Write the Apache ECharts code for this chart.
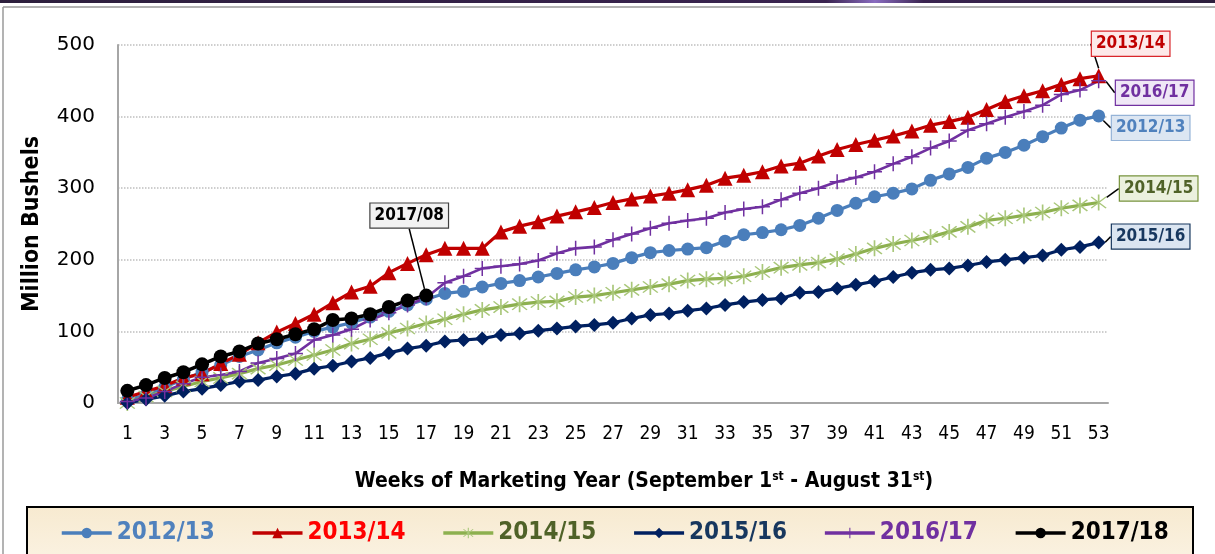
<!DOCTYPE html>
<html>
<head>
<meta charset="utf-8">
<script src="https://cdn.jsdelivr.net/npm/echarts@6/dist/echarts.min.js"></script>
<style>
  html, body { margin: 0; padding: 0; background: #ffffff; }
  #chart { width: 1215px; height: 554px; }
</style>
</head>
<body>
<div id="chart"></div>
<script>
// Week numbers of the marketing year
const weeks = Array.from({ length: 53 }, (_, i) => String(i + 1));

// Cumulative export inspections, million bushels, by marketing year
const y2012_13 = [4,11,22,33,43,53,65,74,84,92,100,106,112,120,128,137,145,
  153,156,162,167,171,176,181,186,190,195,
  203,210,213,215,217,226,235,238,242,248,258,269,279,
  288,293,299,311,320,329,342,350,360,372,384,395,401];
const y2013_14 = [8,16,24,35,41,55,68,84,99,111,124,140,155,163,182,195,207,
  216,216,216,239,247,253,261,267,273,280,
  285,289,293,298,304,314,318,323,331,335,345,354,361,
  367,373,380,388,393,399,410,421,429,436,445,453,457];
const y2014_15 = [0,9,16,23,30,35,41,48,53,60,67,74,83,89,
  98,104,111,117,124,130,134,138,141,142,148,150,154,
  158,162,166,171,173,174,177,183,189,193,196,201,208,
  216,222,227,232,239,246,255,258,262,266,272,276,280];
const y2015_16 = [0,5,10,16,20,25,30,32,37,41,48,52,58,63,
  70,76,80,86,88,90,95,97,101,104,107,109,112,
  118,123,125,129,132,137,141,144,146,154,155,160,165,
  170,176,182,186,188,192,197,200,203,206,214,218,224];
const y2016_17 = [2,7,16,27,36,39,44,56,62,69,88,95,103,116,
  126,137,147,168,177,188,191,194,199,209,216,218,228,
  236,244,251,255,258,266,271,274,284,293,300,309,315,
  323,334,344,356,366,381,390,399,407,416,431,437,450];
const y2017_18 = [17,25,35,43,54,65,72,83,89,96,103,116,118,124,134,143,150];

const yTicks = [0, 100, 200, 300, 400, 500];

// Marker shapes
const ASTERISK = 'path://M9.2 0L10.8 0L10.8 20L9.2 20Z M2.4 3.5L3.5 2.4L17.6 16.5L16.5 17.6Z M16.5 2.4L17.6 3.5L3.5 17.6L2.4 16.5Z';
const PLUS = 'path://M9 0L11 0L11 20L9 20Z M0 9L20 9L20 11L0 11Z';

const FONT = '"DejaVu Sans Condensed", "DejaVu Sans", sans-serif';

// Callout on the last point of a series
function callout(values, text, colors, dx, dy) {
  const data = values.slice();
  const last = data.length - 1;
  data[last] = {
    value: data[last],
    label: {
      show: true,
      position: 'inside',
      formatter: text,
      color: colors.text,
      fontFamily: FONT,
      fontWeight: 'bold',
      fontSize: 17,
      backgroundColor: colors.bg,
      borderColor: colors.border,
      borderWidth: 1.2,
      padding: [4, 4, 3, 4]
    },
    labelLine: { show: true, lineStyle: { color: '#000', width: 1.5 } }
  };
  return { data, layout: { dx, dy } };
}

const c1213 = callout(y2012_13, '2012/13', { text: '#4f81bd', bg: '#dce6f2', border: '#95b3d7' }, 52, 12);
const c1314 = callout(y2013_14, '2013/14', { text: '#c00000', bg: '#fde9e9', border: '#d9262b' }, 32, -32);
const c1415 = callout(y2014_15, '2014/15', { text: '#4f6228', bg: '#ebf1de', border: '#77933c' }, 60, -14);
const c1516 = callout(y2015_16, '2015/16', { text: '#17375e', bg: '#dbe5f1', border: '#17375e' }, 52, -6);
const c1617 = callout(y2016_17, '2016/17', { text: '#7030a0', bg: '#efe7f6', border: '#7030a0' }, 56, 12);
const c1718 = callout(y2017_18, '2017/08', { text: '#000000', bg: '#f2f2f2', border: '#404040' }, -17, -80);

function lineSeries(name, c, color, markerColor, symbol, size, width) {
  return {
    name, type: 'line', data: c.data,
    symbol, symbolSize: size,
    showAllSymbol: true,
    lineStyle: { color, width },
    itemStyle: { color: markerColor },
    labelLayout: c.layout,
    animation: false
  };
}

const chart = echarts.init(document.getElementById('chart'), null, { renderer: 'canvas' });

chart.setOption({
  backgroundColor: '#ffffff',
  textStyle: { fontFamily: FONT },
  grid: { left: 118, right: 107, top: 45, bottom: 151, containLabel: false },
  xAxis: {
    type: 'category',
    data: weeks,
    boundaryGap: true,
    axisLine: { lineStyle: { color: '#a6a6a6', width: 2 } },
    axisTick: { show: false },
    axisLabel: { interval: 1, margin: 22, fontSize: 19, color: '#000', fontFamily: FONT },
    name: '{t|Weeks of Marketing Year (September 1}{s|st}{t| - August 31}{s|st}{t|)}',
    nameLocation: 'middle',
    nameGap: 68,
    nameTextStyle: {
      padding: [0, 0, 0, 62],
      rich: {
        t: { fontFamily: FONT, fontWeight: 'bold', fontSize: 21, color: '#000' },
        s: { fontFamily: FONT, fontWeight: 'bold', fontSize: 12, color: '#000', verticalAlign: 'top', padding: [0, 0, 9, 0] }
      }
    }
  },
  yAxis: {
    type: 'value',
    min: yTicks[0], max: yTicks[yTicks.length - 1], interval: 100,
    axisLine: { show: true, lineStyle: { color: '#a6a6a6', width: 2 } },
    axisTick: { show: false },
    axisLabel: { margin: 23, fontSize: 20, color: '#000', fontFamily: '"DejaVu Sans", sans-serif' },
    splitLine: { lineStyle: { color: '#bfbfbf', type: 'dotted', width: 1.5 } },
    name: 'Million Bushels',
    nameLocation: 'middle',
    nameGap: 74,
    nameTextStyle: { fontFamily: FONT, fontWeight: 'bold', fontSize: 23, color: '#000' }
  },
  legend: {
    left: 55, top: 516,
    itemWidth: 50, itemHeight: 13, itemGap: 36,
    lineStyle: { width: 3.5 },
    textStyle: { fontFamily: FONT, fontWeight: 'bold', fontSize: 24 },
    data: [
      { name: '2012/13', textStyle: { color: '#4f81bd' } },
      { name: '2013/14', textStyle: { color: '#ff0000' } },
      { name: '2014/15', textStyle: { color: '#4f6228' } },
      { name: '2015/16', textStyle: { color: '#17375e' } },
      { name: '2016/17', textStyle: { color: '#7030a0' } },
      { name: '2017/18', textStyle: { color: '#000000' } }
    ]
  },
  graphic: [
    // thin top band
    { type: 'rect', left: 0, top: 0, shape: { width: 1215, height: 3 },
      style: { fill: new echarts.graphic.LinearGradient(0, 0, 1, 0, [
        { offset: 0, color: '#2d1f3d' }, { offset: 0.68, color: '#3a2450' },
        { offset: 0.72, color: '#8a6cc0' }, { offset: 0.76, color: '#3a2450' }, { offset: 1, color: '#2d1f3d' }]) },
      silent: true },
    // outer frame edges
    { type: 'line', shape: { x1: 3, y1: 7, x2: 1215, y2: 7 }, style: { stroke: '#9a9a9a', lineWidth: 1.5 }, silent: true },
    { type: 'line', shape: { x1: 3, y1: 7, x2: 3, y2: 554 }, style: { stroke: '#9a9a9a', lineWidth: 1.5 }, silent: true },
    // legend panel
    { type: 'rect', z: -1, shape: { x: 27, y: 507, width: 1166, height: 60 },
      style: { fill: new echarts.graphic.LinearGradient(0, 0, 0, 1, [
        { offset: 0, color: '#f7ead0' }, { offset: 1, color: '#fbf3e4' }]), stroke: '#000', lineWidth: 2 },
      silent: true }
  ],
  series: [
    lineSeries('2012/13', c1213, '#4a7ebb', '#4a7ebb', 'circle', 13, 3.2),
    lineSeries('2013/14', c1314, '#c00000', '#c00000', 'triangle', 15, 3.2),
    lineSeries('2014/15', c1415, '#8db04f', '#a9c77a', ASTERISK, 16, 3.2),
    lineSeries('2015/16', c1516, '#002060', '#002060', 'diamond', 14, 3.2),
    lineSeries('2016/17', c1617, '#7030a0', '#7030a0', PLUS, 15, 2.6),
    lineSeries('2017/18', c1718, '#000000', '#000000', 'circle', 14, 3.6)
  ]
});
</script>
</body>
</html>
